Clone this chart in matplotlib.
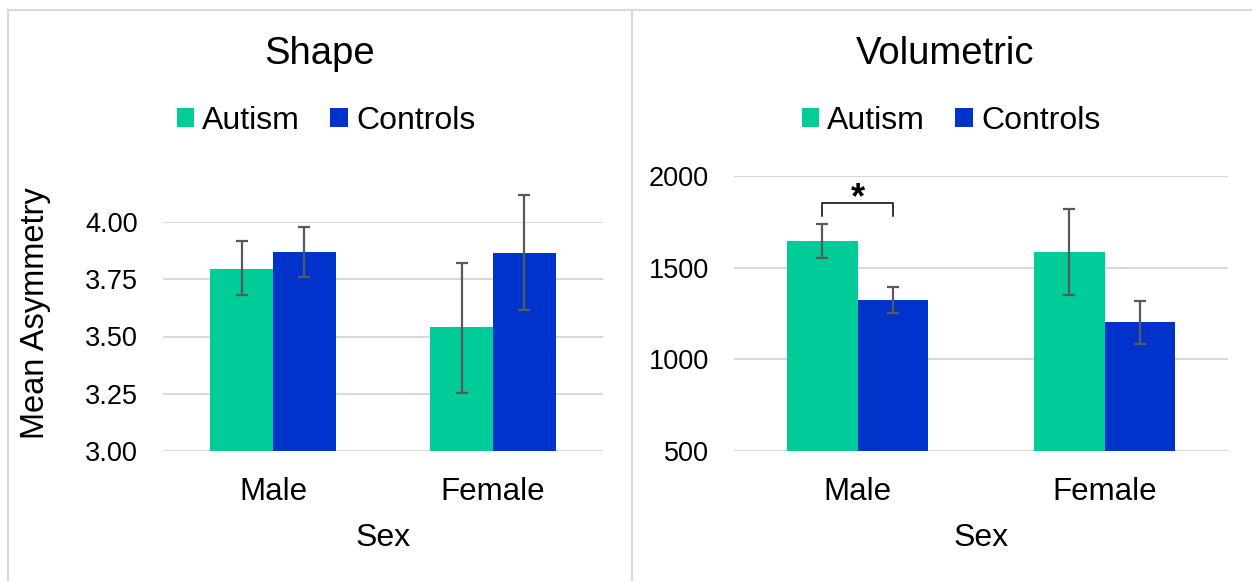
import numpy as np
import matplotlib
matplotlib.use("Agg")
import matplotlib.pyplot as plt
from matplotlib.patches import Rectangle
from matplotlib.lines import Line2D

plt.rcParams['font.family'] = ['Liberation Sans', 'DejaVu Sans']

# data
sexes = ['Male', 'Female']
groups = ['Autism', 'Controls']

shape_autism = [3.795, 3.54]
shape_autism_lo = [3.68, 3.255]
shape_autism_hi = [3.915, 3.82]
shape_controls = [3.87, 3.865]
shape_controls_lo = [3.76, 3.615]
shape_controls_hi = [3.98, 4.12]

vol_autism = [1645, 1585]
vol_autism_lo = [1552, 1350]
vol_autism_hi = [1740, 1820]
vol_controls = [1322, 1203]
vol_controls_lo = [1252, 1085]
vol_controls_hi = [1392, 1320]

shape_ticks = [3.00, 3.25, 3.50, 3.75, 4.00]
vol_ticks = [500, 1000, 1500, 2000]

c_autism = '#00CC99'
c_controls = '#0033CC'
c_err = '#595959'
c_grid = '#D9D9D9'

W, H = 1252, 581
fig = plt.figure(figsize=(W / 100, H / 100), dpi=100)


def fx(px):
    return px / W


def fy(py):
    return 1 - py / H


# pane borders
for x0, x1 in [(8, 632), (632, 1262)]:
    fig.patches.append(Rectangle((fx(x0), fy(600)), fx(x1 - x0), (600 - 10) / H,
                                 transform=fig.transFigure, fill=False,
                                 edgecolor=c_grid, linewidth=1.5))

ax1 = fig.add_axes([fx(163), fy(451), fx(440), 229 / H])
ax2 = fig.add_axes([fx(734), fy(451), fx(494), 275 / H])

w = 0.285
x = np.arange(len(sexes))


def draw(ax, a, alo, ahi, c, clo, chi, ticks, fmt):
    ax.bar(x - w / 2, a, w, color=c_autism, label=groups[0], zorder=2)
    ax.bar(x + w / 2, c, w, color=c_controls, label=groups[1], zorder=2)
    for xs, vals, lo, hi in [(x - w / 2, a, alo, ahi), (x + w / 2, c, clo, chi)]:
        vals = np.array(vals)
        err = [vals - np.array(lo), np.array(hi) - vals]
        eb = ax.errorbar(xs, vals, yerr=err, fmt='none', ecolor=c_err,
                         elinewidth=1.6, capsize=4.5, capthick=1.6, zorder=3)
        for art in eb.get_children():
            art.set_clip_on(False)
    ax.set_xlim(-0.5, 1.5)
    ax.set_ylim(ticks[0], ticks[-1])
    ax.set_yticks(ticks)
    ax.set_yticklabels([fmt.format(t) for t in ticks])
    ax.set_xticks(x)
    ax.set_xticklabels(sexes, fontsize=22.5)
    ax.tick_params(axis='y', length=0, pad=18, labelsize=19.5)
    ax.tick_params(axis='x', length=0, pad=19)
    ax.grid(axis='y', color=c_grid, linewidth=1.5, zorder=0)
    ax.set_axisbelow(True)
    for s in ax.spines.values():
        s.set_visible(False)
    ax.set_xlabel('Sex', fontsize=23, labelpad=11)


draw(ax1, shape_autism, shape_autism_lo, shape_autism_hi,
     shape_controls, shape_controls_lo, shape_controls_hi, shape_ticks, '{:.2f}')
draw(ax2, vol_autism, vol_autism_lo, vol_autism_hi,
     vol_controls, vol_controls_lo, vol_controls_hi, vol_ticks, '{:d}')

# significance bracket on male volumetric
bx = [-w / 2, -w / 2, w / 2, w / 2]
by = [1780, 1852, 1852, 1780]
ax2.add_line(Line2D(bx, by, color='black', linewidth=1.1, clip_on=False))
ax2.text(0, 1822, '*', ha='center', va='baseline', fontsize=26,
         fontweight='bold', clip_on=False)

fig.text(fx(320), fy(54), 'Shape', ha='center', va='center', fontsize=27.5)
fig.text(fx(945), fy(54), 'Volumetric', ha='center', va='center', fontsize=27.5)
fig.text(fx(36), fy(313), 'Mean Asymmetry', ha='center', va='center',
         rotation=90, fontsize=23.5)

for ax, cx in [(ax1, 326), (ax2, 951)]:
    ax.legend(loc='center', bbox_to_anchor=(fx(cx), fy(121)),
              bbox_transform=fig.transFigure, ncol=2, frameon=False,
              fontsize=23, handlelength=0.55, handleheight=0.55,
              handletextpad=0.25, columnspacing=0.95, borderpad=0)

fig.savefig('out.png', dpi=100)
